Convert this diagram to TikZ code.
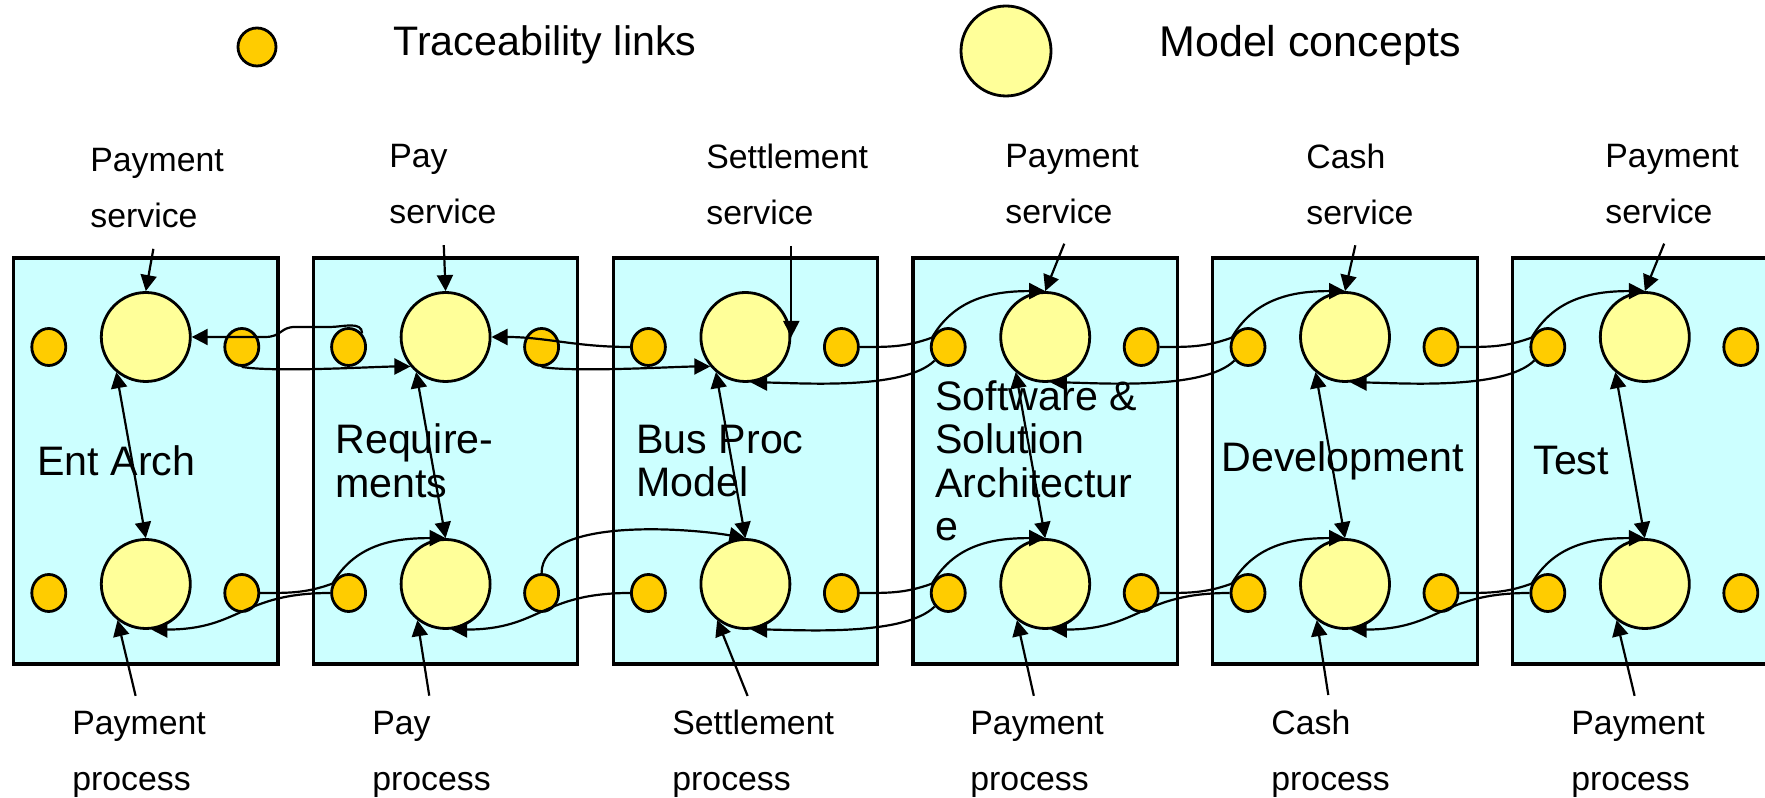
\documentclass[tikz,border=0pt]{standalone}
\usepackage{fontspec}
\setmainfont{Liberation Sans}
\usetikzlibrary{arrows.meta,shapes,positioning}
\definecolor{stagecyan}{RGB}{204,255,255}
\definecolor{conceptyellow}{RGB}{255,255,153}
\definecolor{linkgold}{RGB}{255,204,0}
\tikzstyle{stage} = [draw, line width=1.6pt, fill=stagecyan, minimum width=132.25pt, minimum height=203pt, inner sep=0]
\tikzstyle{concept} = [circle, draw, line width=1.4pt, fill=conceptyellow, minimum size=44.5pt, inner sep=0]
\tikzstyle{tracelink} = [ellipse, draw, line width=1.4pt, fill=linkgold, minimum width=17pt, minimum height=18.5pt, inner sep=0]
\tikzstyle{stagetitle} = [align=left, inner sep=0, font=\fontsize{20.6pt}{21.75pt}\selectfont]
\tikzstyle{notetext} = [align=left, inner sep=0, font=\fontsize{16.9pt}{28pt}\selectfont]
\tikzstyle{notearrow} = [line width=1.1pt, ->, >={Triangle[length=8pt,width=8pt]}]

\begin{document}
\begin{tikzpicture}[x=0.5pt, y=0.5pt]
\useasboundingbox (0,0) rectangle (1765,797);
% Legend
\node[tracelink, minimum width=19pt, minimum height=19pt] (keylink) at (257,750) {};
\node[right, stagetitle] (keylinktext) at (393,752) {Traceability links};
\node[concept, minimum size=45pt] (keyconcept) at (1006,746) {};
\node[right, stagetitle, font=\fontsize{21.5pt}{23pt}\selectfont] (keyconcepttext) at (1159,752) {Model concepts};

% Stages
\node[stage] (box1) at (145.8,336) {};
\node[stage] (box2) at (445.6,336) {};
\node[stage] (box3) at (745.4,336) {};
\node[stage] (box4) at (1045.2,336) {};
\node[stage] (box5) at (1345.0,336) {};
\node[stage] (box6) at (1644.8,336) {};

\node[right, stagetitle] (title1) at (37,336) {Ent Arch};
\node[right, stagetitle] (title2) at (335,336) {Require-\\ments};
\node[right, stagetitle] (title3) at (636,336) {Bus Proc\\Model};
\node[right, stagetitle] (title4) at (935,336) {Software \&\\Solution\\Architectur\\e};
\node[right, stagetitle] (title5) at (1221,336) {Development};
\node[right, stagetitle] (title6) at (1533,336) {Test};

% Model concepts
\node[concept] (svc1) at (145.8,460) {};
\node[concept] (svc2) at (445.6,460) {};
\node[concept] (svc3) at (745.4,460) {};
\node[concept] (svc4) at (1045.2,460) {};
\node[concept] (svc5) at (1345.0,460) {};
\node[concept] (svc6) at (1644.8,460) {};
\node[concept] (proc1) at (145.8,213) {};
\node[concept] (proc2) at (445.6,213) {};
\node[concept] (proc3) at (745.4,213) {};
\node[concept] (proc4) at (1045.2,213) {};
\node[concept] (proc5) at (1345.0,213) {};
\node[concept] (proc6) at (1644.8,213) {};

% Traceability links
\node[tracelink] (svcl1) at (48.8,450) {};
\node[tracelink] (svcr1) at (241.8,450) {};
\node[tracelink] (svcl2) at (348.6,450) {};
\node[tracelink] (svcr2) at (541.6,450) {};
\node[tracelink] (svcl3) at (648.4,450) {};
\node[tracelink] (svcr3) at (841.4,450) {};
\node[tracelink] (svcl4) at (948.2,450) {};
\node[tracelink] (svcr4) at (1141.2,450) {};
\node[tracelink] (svcl5) at (1248.0,450) {};
\node[tracelink] (svcr5) at (1441.0,450) {};
\node[tracelink] (svcl6) at (1547.8,450) {};
\node[tracelink] (svcr6) at (1740.8,450) {};
\node[tracelink] (procl1) at (48.8,204) {};
\node[tracelink] (procr1) at (241.8,204) {};
\node[tracelink] (procl2) at (348.6,204) {};
\node[tracelink] (procr2) at (541.6,204) {};
\node[tracelink] (procl3) at (648.4,204) {};
\node[tracelink] (procr3) at (841.4,204) {};
\node[tracelink] (procl4) at (948.2,204) {};
\node[tracelink] (procr4) at (1141.2,204) {};
\node[tracelink] (procl5) at (1248.0,204) {};
\node[tracelink] (procr5) at (1441.0,204) {};
\node[tracelink] (procl6) at (1547.8,204) {};
\node[tracelink] (procr6) at (1740.8,204) {};

% Notes
\node[right, notetext] (svcnote1) at (90,609) {Payment\\service};
\node[right, notetext] (svcnote2) at (389,613) {Pay\\service};
\node[right, notetext] (svcnote3) at (706,613) {Settlement\\service};
\node[right, notetext] (svcnote4) at (1005,613) {Payment\\service};
\node[right, notetext] (svcnote5) at (1306,613) {Cash\\service};
\node[right, notetext] (svcnote6) at (1605,613) {Payment\\service};
\node[right, notetext] (procnote1) at (72,43) {Payment\\process};
\node[right, notetext] (procnote2) at (372,43) {Pay\\process};
\node[right, notetext] (procnote3) at (672,43) {Settlement\\process};
\node[right, notetext] (procnote4) at (970,43) {Payment\\process};
\node[right, notetext] (procnote5) at (1271,43) {Cash\\process};
\node[right, notetext] (procnote6) at (1571,43) {Payment\\process};

\draw[notearrow, shorten <=10.5pt] (svcnote1.south) -- (svc1.north);
\draw[notearrow, shorten <=10.5pt] (svcnote2.south) -- (svc2.north);
\draw[notearrow, shorten <=10.5pt] (svcnote3.south -| svc3.east) -- (svc3.east);
\draw[notearrow, shorten <=10.5pt] (svcnote4.south) -- (svc4.north);
\draw[notearrow, shorten <=10.5pt] (svcnote5.south) -- (svc5.north);
\draw[notearrow, shorten <=10.5pt] (svcnote6.south) -- (svc6.north);
\draw[notearrow, shorten <=7.5pt] (procnote1.north) -- (proc1.232);
\draw[notearrow, shorten <=7.5pt] (procnote2.north) -- (proc2.232);
\draw[notearrow, shorten <=7.5pt] (procnote3.north) -- (proc3.232);
\draw[notearrow, shorten <=7.5pt] (procnote4.north) -- (proc4.232);
\draw[notearrow, shorten <=7.5pt] (procnote5.north) -- (proc5.232);
\draw[notearrow, shorten <=7.5pt] (procnote6.north) -- (proc6.232);

% Service to process
\draw[notearrow, <->] (svc1.230) -- (proc1.north);
\draw[notearrow, <->] (svc2.230) -- (proc2.north);
\draw[notearrow, <->] (svc3.230) -- (proc3.north);
\draw[notearrow, <->] (svc4.230) -- (proc4.north);
\draw[notearrow, <->] (svc5.230) -- (proc5.north);
\draw[notearrow, <->] (svc6.230) -- (proc6.north);

% Links across stages, service row
\draw[notearrow] (svcl2.45) to[out=90,in=0] (330,470) -- (295,470) .. controls (280,470) and (282,460) .. (265,460) -- (svc1.east);
\draw[notearrow] (svcr1.south) to[out=-10,in=180,looseness=0.5] (svc2.220);
\draw[notearrow] (svcl3.west) to[out=180,in=0] (svc2.east);
\draw[notearrow] (svcr2.south) to[out=-10,in=180,looseness=0.5] (svc3.220);
\draw[notearrow] (svcr3.east) to[out=0,in=200] (svcl4.150) to[out=60,in=180] (svc4.north);
\draw[notearrow] (svcl4.225) to[out=225,in=0,looseness=0.6] (svc3.277);
\draw[notearrow] (svcr4.east) to[out=0,in=200] (svcl5.150) to[out=60,in=180] (svc5.north);
\draw[notearrow] (svcl5.225) to[out=225,in=0,looseness=0.6] (svc4.277);
\draw[notearrow] (svcr5.east) to[out=0,in=200] (svcl6.150) to[out=60,in=180] (svc6.north);
\draw[notearrow] (svcl6.225) to[out=225,in=0,looseness=0.6] (svc5.277);

% Links across stages, process row
\draw[notearrow] (procr1.east) to[out=0,in=200] (procl2.150) to[out=60,in=180] (proc2.north);
\draw[notearrow] (procl2.west) to[out=180,in=0,looseness=1.25] (proc1.277);
\draw[notearrow] (procr2.north) to[out=90,in=170,looseness=0.7] (proc3.north);
\draw[notearrow] (procl3.west) to[out=180,in=0,looseness=1.25] (proc2.277);
\draw[notearrow] (procr3.east) to[out=0,in=200] (procl4.150) to[out=60,in=180] (proc4.north);
\draw[notearrow] (procl4.225) to[out=225,in=0,looseness=0.6] (proc3.277);
\draw[notearrow] (procr4.east) to[out=0,in=200] (procl5.150) to[out=60,in=180] (proc5.north);
\draw[notearrow] (procl5.west) to[out=180,in=0,looseness=1.25] (proc4.277);
\draw[notearrow] (procr5.east) to[out=0,in=200] (procl6.150) to[out=60,in=180] (proc6.north);
\draw[notearrow] (procl6.west) to[out=180,in=0,looseness=1.25] (proc5.277);
\end{tikzpicture}
\end{document}
